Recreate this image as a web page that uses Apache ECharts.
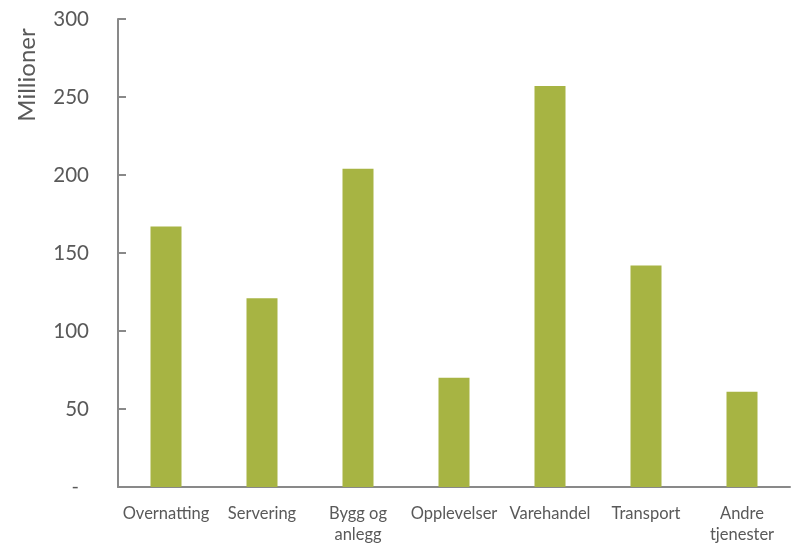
<!DOCTYPE html>
<html><head><meta charset="utf-8">
<script src="https://cdn.jsdelivr.net/npm/echarts@6/dist/echarts.min.js"></script>
<style>html,body{margin:0;padding:0;background:#fff}#c{width:792px;height:545px}</style>
</head><body><div id="c"></div>
<script>
const categories = ['Overnatting', 'Servering', 'Bygg og\nanlegg', 'Opplevelser', 'Varehandel', 'Transport', 'Andre\ntjenester'];
const values = [167, 121, 204, 70, 257, 142, 61];
const yTicks = { min: 0, max: 300, interval: 50 };
const yTitle = 'Millioner';

const chart = echarts.init(document.getElementById('c'), null, { renderer: 'canvas' });
chart.setOption({
  animation: false,
  backgroundColor: '#fff',
  grid: { left: 118, right: 2, top: 19, bottom: 56, containLabel: false },
  xAxis: {
    type: 'category', data: categories,
    axisLine: { lineStyle: { color: '#898989', width: 2 } },
    axisTick: { show: false },
    axisLabel: { color: '#595959', fontSize: 16.5, fontFamily: 'Lato', margin: 16, lineHeight: 21, interval: 0 }
  },
  yAxis: {
    type: 'value', min: yTicks.min, max: yTicks.max, interval: yTicks.interval,
    splitLine: { show: false },
    axisLine: { show: true, lineStyle: { color: '#898989', width: 2 } },
    axisTick: { show: true, inside: true, length: 8, lineStyle: { color: '#898989', width: 2 } },
    axisLabel: {
      color: '#595959', fontSize: 20.5, fontFamily: 'Lato', margin: 29,
      formatter: v => v === 0 ? '{d|-}' : String(v),
      rich: { d: { color: '#595959', fontSize: 20, fontFamily: 'Lato', padding: [0, 10, 0, 0] } }
    }
  },
  graphic: [{
    type: 'text', x: 27, y: 75, rotation: Math.PI / 2,
    style: { text: yTitle, fill: '#595959', font: '24px Lato', align: 'center', verticalAlign: 'middle' }
  }],
  series: [{
    type: 'bar', data: values, barWidth: 31,
    itemStyle: { color: '#A7B443' }
  }]
});
</script></body></html>
